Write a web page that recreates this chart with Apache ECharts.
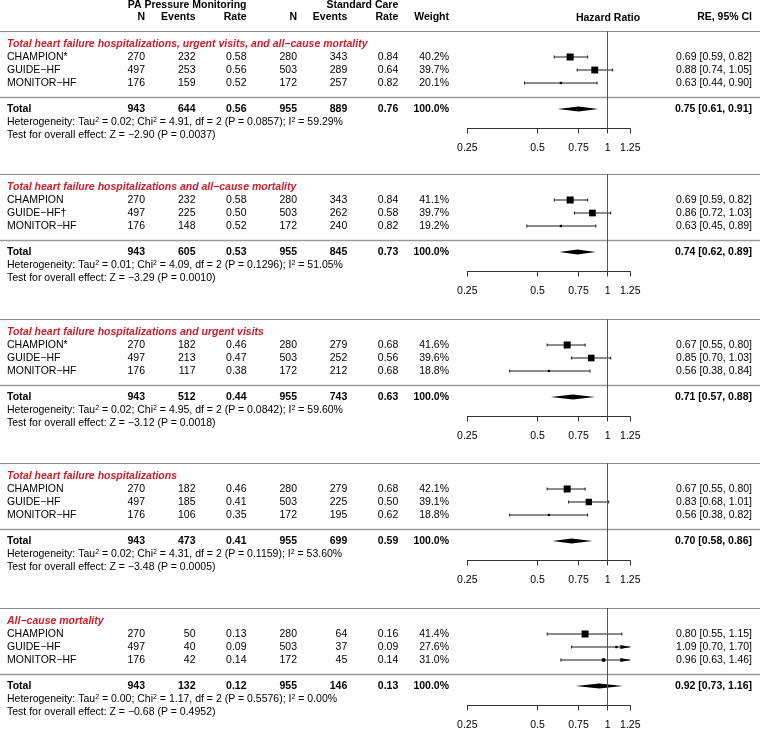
<!DOCTYPE html>
<html><head><meta charset="utf-8">
<script src="https://cdn.jsdelivr.net/npm/echarts@6/dist/echarts.min.js"></script>
<style>html,body{margin:0;padding:0;background:#fff}#c{width:760px;height:730px}</style>
</head><body><div id="c"></div>
<script>
// ---------------- DATA ----------------
const panelTitles = [
  "Total heart failure hospitalizations, urgent visits, and all\u2212cause mortality",
  "Total heart failure hospitalizations and all\u2212cause mortality",
  "Total heart failure hospitalizations and urgent visits",
  "Total heart failure hospitalizations",
  "All\u2212cause mortality"
];
const studyNames = [
  ["CHAMPION*", "GUIDE\u2212HF", "MONITOR\u2212HF"],
  ["CHAMPION", "GUIDE\u2212HF\u2020", "MONITOR\u2212HF"],
  ["CHAMPION*", "GUIDE\u2212HF", "MONITOR\u2212HF"],
  ["CHAMPION", "GUIDE\u2212HF", "MONITOR\u2212HF"],
  ["CHAMPION", "GUIDE\u2212HF", "MONITOR\u2212HF"]
];
const paN      = [[270,497,176],[270,497,176],[270,497,176],[270,497,176],[270,497,176]];
const paEvents = [[232,253,159],[232,225,148],[182,213,117],[182,185,106],[50,40,42]];
const paRate   = [[0.58,0.56,0.52],[0.58,0.50,0.52],[0.46,0.47,0.38],[0.46,0.41,0.35],[0.13,0.09,0.14]];
const scN      = [[280,503,172],[280,503,172],[280,503,172],[280,503,172],[280,503,172]];
const scEvents = [[343,289,257],[343,262,240],[279,252,212],[279,225,195],[64,37,45]];
const scRate   = [[0.84,0.64,0.82],[0.84,0.58,0.82],[0.68,0.56,0.68],[0.68,0.50,0.62],[0.16,0.09,0.14]];
const weights  = [[40.2,39.7,20.1],[41.1,39.7,19.2],[41.6,39.6,18.8],[42.1,39.1,18.8],[41.4,27.6,31.0]];
const hrEst    = [[0.69,0.88,0.63],[0.69,0.86,0.63],[0.67,0.85,0.56],[0.67,0.83,0.56],[0.80,1.09,0.96]];
const hrLow    = [[0.59,0.74,0.44],[0.59,0.72,0.45],[0.55,0.70,0.38],[0.55,0.68,0.38],[0.55,0.70,0.63]];
const hrHigh   = [[0.82,1.05,0.90],[0.82,1.03,0.89],[0.80,1.03,0.84],[0.80,1.01,0.82],[1.15,1.70,1.46]];

const totPaN      = [943,943,943,943,943];
const totPaEvents = [644,605,512,473,132];
const totPaRate   = [0.56,0.53,0.44,0.41,0.12];
const totScN      = [955,955,955,955,955];
const totScEvents = [889,845,743,699,146];
const totScRate   = [0.76,0.73,0.63,0.59,0.13];
const totHr       = [0.75,0.74,0.71,0.70,0.92];
const totLow      = [0.61,0.62,0.57,0.58,0.73];
const totHigh     = [0.91,0.89,0.88,0.86,1.16];

const hetTau2 = [0.02,0.01,0.02,0.02,0.00];
const hetChi2 = [4.91,4.09,4.95,4.31,1.17];
const hetDf   = [2,2,2,2,2];
const hetP    = [0.0857,0.1296,0.0842,0.1159,0.5576];
const hetI2   = [59.29,51.05,59.60,53.60,0.00];
const testZ   = [-2.90,-3.29,-3.12,-3.48,-0.68];
const testP   = [0.0037,0.0010,0.0018,0.0005,0.4952];

const axisTickValues = [0.25, 0.5, 0.75, 1, 1.25];

// ---------------- LAYOUT ----------------
const FONT = "'Liberation Sans', Arial, Helvetica, sans-serif";
const FS = 10.5;
const RED = '#C8202F';
const panelTops = [31, 174, 319, 463, 608];
const ROW = 13;
const rowY = (k, r) => panelTops[k] + (r + 2) * ROW;
const colX = [145, 195.5, 246.5, 297, 347.3, 398.3, 449];
const NAME_X = 7, CI_X = 752, HR_X = 608;
const PLOT_LEFT = 467.3, PLOT_W = 163;
const AX_MIN = 0.25, AX_MAX = 1.25;

const f2 = v => v.toFixed(2);
const f4 = v => v.toFixed(4);
const ciStr = (e, l, h) => `${f2(e)} [${f2(l)}, ${f2(h)}]`;
const signed = v => (v < 0 ? '\u2212' : '') + Math.abs(v).toFixed(2);

function T(x, y, text, o) {
  o = o || {};
  return {
    type: 'text', x: x, y: y, silent: true, z: 10,
    style: Object.assign({
      text: text, fontFamily: FONT, fontSize: FS,
      fontWeight: o.bold ? 'bold' : 'normal',
      fontStyle: o.italic ? 'italic' : 'normal',
      fill: o.color || '#000',
      align: o.align || 'right', verticalAlign: 'middle'
    }, o.extra || {})
  };
}
function HL(y, color, w) {
  return { type: 'line', silent: true, z: 1,
    shape: { x1: 0, y1: y, x2: 760, y2: y },
    style: { stroke: color, lineWidth: w } };
}

const graphics = [];
// header
graphics.push(T(colX[2], 5, 'PA Pressure Monitoring', { bold: true }));
graphics.push(T(colX[5], 5, 'Standard Care', { bold: true }));
const colHeads = ['N', 'Events', 'Rate', 'N', 'Events', 'Rate', 'Weight'];
colHeads.forEach((h, i) => graphics.push(T(colX[i], 17, h, { bold: true })));
graphics.push(T(HR_X, 18, 'Hazard Ratio', { bold: true, align: 'center' }));
graphics.push(T(CI_X, 17, 'RE, 95% CI', { bold: true }));

const supRich = { s: { fontSize: 7, fontFamily: FONT, verticalAlign: 'top', fill: '#000' } };

for (let k = 0; k < 5; k++) {
  const h = panelTops[k];
  graphics.push(HL(Math.floor(h) + 0.5, '#8a8a8a', 1));
  graphics.push(HL(Math.floor(h + 66) + 0.5, '#9a9a9a', 1.3));
  graphics.push(T(NAME_X, rowY(k, -1), panelTitles[k], { bold: true, italic: true, color: RED, align: 'left' }));
  for (let i = 0; i < 3; i++) {
    const y = rowY(k, i);
    graphics.push(T(NAME_X, y, studyNames[k][i], { align: 'left' }));
    const vals = [paN[k][i], paEvents[k][i], f2(paRate[k][i]), scN[k][i], scEvents[k][i], f2(scRate[k][i]), weights[k][i].toFixed(1) + '%'];
    vals.forEach((v, c) => graphics.push(T(colX[c], y, String(v))));
    graphics.push(T(CI_X, y, ciStr(hrEst[k][i], hrLow[k][i], hrHigh[k][i])));
  }
  const yt = rowY(k, 4);
  graphics.push(T(NAME_X, yt, 'Total', { align: 'left', bold: true }));
  const tv = [totPaN[k], totPaEvents[k], f2(totPaRate[k]), totScN[k], totScEvents[k], f2(totScRate[k]), '100.0%'];
  tv.forEach((v, c) => graphics.push(T(colX[c], yt, String(v), { bold: true })));
  graphics.push(T(CI_X, yt, ciStr(totHr[k], totLow[k], totHigh[k]), { bold: true }));
  const het = `Heterogeneity: Tau{s|2} = ${f2(hetTau2[k])}; Chi{s|2} = ${f2(hetChi2[k])}, df = ${hetDf[k]} (P = ${f4(hetP[k])}); I{s|2} = ${f2(hetI2[k])}%`;
  graphics.push(T(NAME_X, rowY(k, 5), het, { align: 'left', extra: { rich: supRich } }));
  graphics.push(T(NAME_X, rowY(k, 6), `Test for overall effect: Z = ${signed(testZ[k])} (P = ${f4(testP[k])})`, { align: 'left' }));
}

// ---------------- CHART ----------------
const grids = [], xAxes = [], yAxes = [], series = [];
for (let k = 0; k < 5; k++) {
  grids.push({ left: PLOT_LEFT, width: PLOT_W, top: panelTops[k], height: 97.5, outerBoundsMode: 'none', containLabel: false });
  xAxes.push({
    type: 'log', logBase: 10, gridIndex: k, min: AX_MIN, max: AX_MAX, position: 'bottom',
    axisLine: { show: true, onZero: false, lineStyle: { color: '#333', width: 1 } },
    axisTick: { show: true, length: 5, inside: false, customValues: axisTickValues, lineStyle: { color: '#333', width: 1 } },
    axisLabel: { show: true, customValues: axisTickValues, margin: 14, fontFamily: FONT, fontSize: FS, color: '#000',
      formatter: v => String(+(+v).toFixed(2)) },
    splitLine: { show: false }, minorTick: { show: false }, minorSplitLine: { show: false }
  });
  yAxes.push({ type: 'value', gridIndex: k, inverse: true, min: -2, max: 5.5, show: false });

  const ws = weights[k];
  const wMin = Math.min(...ws), wMax = Math.max(...ws);
  const studyData = [0, 1, 2].map(i => [hrEst[k][i], hrLow[k][i], hrHigh[k][i], i]);
  series.push({
    type: 'custom', xAxisIndex: k, yAxisIndex: k, silent: true, clip: false,
    encode: { x: [0, 1, 2], y: 3 },
    data: studyData,
    renderItem: function (params, api) {
      const est = api.value(0), lo = api.value(1), hi = api.value(2), row = api.value(3);
      const w = ws[params.dataIndex];
      const sz = 4.67 * (0.5 + (w - wMin) / (wMax - wMin));
      const loC = Math.max(lo, AX_MIN), hiC = Math.min(hi, AX_MAX);
      const p1 = api.coord([loC, row]), p2 = api.coord([hiC, row]), pc = api.coord([est, row]);
      const col = '#1a1a1a';
      const ch = [
        { type: 'line', shape: { x1: p1[0], y1: p1[1], x2: p2[0], y2: p2[1] }, style: { stroke: col, lineWidth: 1 } },
        { type: 'rect', shape: { x: pc[0] - sz / 2, y: pc[1] - sz / 2, width: sz, height: sz }, style: { fill: '#000' } }
      ];
      if (lo >= AX_MIN) ch.push({ type: 'line', shape: { x1: p1[0], y1: p1[1] - 1.5, x2: p1[0], y2: p1[1] + 1.5 }, style: { stroke: col, lineWidth: 1 } });
      if (hi <= AX_MAX) ch.push({ type: 'line', shape: { x1: p2[0], y1: p2[1] - 1.5, x2: p2[0], y2: p2[1] + 1.5 }, style: { stroke: col, lineWidth: 1 } });
      else ch.push({ type: 'polygon', shape: { points: [[p2[0], p2[1]], [p2[0] - 10, p2[1] - 2], [p2[0] - 10, p2[1] + 2]] }, style: { fill: '#000' } });
      return { type: 'group', children: ch };
    }
  });
  series.push({
    type: 'custom', xAxisIndex: k, yAxisIndex: k, silent: true, clip: false,
    encode: { x: [0, 1, 2], y: 3 },
    data: [[totHr[k], totLow[k], totHigh[k], 4]],
    renderItem: function (params, api) {
      const row = api.value(3);
      const pl = api.coord([api.value(1), row]), pe = api.coord([api.value(0), row]), ph = api.coord([api.value(2), row]);
      return { type: 'polygon', shape: { points: [[pl[0], pl[1]], [pe[0], pe[1] - 2.5], [ph[0], ph[1]], [pe[0], pe[1] + 2.5]] }, style: { fill: '#000' } };
    },
    markLine: {
      silent: true, symbol: ['none', 'none'], label: { show: false }, animation: false,
      lineStyle: { color: '#555', width: 1, type: 'solid' },
      data: [{ xAxis: 1 }]
    }
  });
}

const chart = echarts.init(document.getElementById('c'), null, { renderer: 'canvas' });
chart.setOption({
  animation: false,
  backgroundColor: '#fff',
  grid: grids, xAxis: xAxes, yAxis: yAxes, series: series,
  graphic: { elements: graphics }
});
</script>
</body></html>
